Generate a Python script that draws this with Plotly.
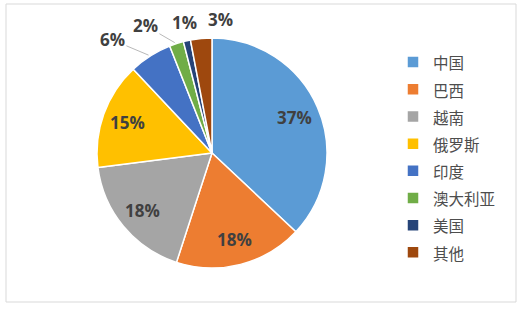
import math
import plotly.graph_objects as go

categories = ["中国", "巴西", "越南", "俄罗斯", "印度", "澳大利亚", "美国", "其他"]
shares = [37, 18, 18, 15, 6, 2, 1, 3]
colors = ["#5B9BD5", "#ED7D31", "#A5A5A5", "#FFC000", "#4472C4", "#70AD47", "#264478", "#9E480E"]
# label placement: True -> drawn inside slice; otherwise outside with offset (dx, dy px) and leader line flag
inside = [True, True, True, True, False, False, False, False]
outside_offsets = {4: (-38, -16, True), 5: (-31, -18, True), 6: (-2, -18, False), 7: (19, -19, False)}
inside_radius_frac = 0.78

W, H = 524, 310
cx, cy, r = 212, 153, 115

legend_labels = [f"<span style='font-size:15.5px'>{c}</span>" for c in categories]
total = sum(shares)
pct_text = [f"{round(100 * v / total)}%" for v in shares]

label_font = dict(family="Open Sans, Noto Sans CJK SC", size=17, color="#404040", weight="bold")

fig = go.Figure(go.Pie(
    labels=legend_labels,
    values=shares,
    textinfo="none",
    sort=False,
    direction="clockwise",
    rotation=0,
    marker=dict(colors=colors, line=dict(color="white", width=1.5)),
    domain=dict(x=[(cx - r) / W, (cx + r) / W], y=[1 - (cy + r) / H, 1 - (cy - r) / H]),
    hoverinfo="skip",
))

# percentage labels placed at each slice's mid-angle
annotations = []
cum = 0
for i, v in enumerate(shares):
    mid = (cum + v / 2) / total * 2 * math.pi
    cum += v
    if inside[i]:
        px = cx + inside_radius_frac * r * math.sin(mid)
        py = cy - inside_radius_frac * r * math.cos(mid)
        annotations.append(dict(
            x=px / W, y=1 - py / H, xref="paper", yref="paper",
            xanchor="center", yanchor="middle",
            text=pct_text[i], showarrow=False, font=label_font,
        ))
        continue
    ex = cx + r * math.sin(mid)
    ey = cy - r * math.cos(mid)
    dx, dy, line = outside_offsets[i]
    if line:
        annotations.append(dict(
            x=ex / W, y=1 - ey / H, xref="paper", yref="paper",
            ax=dx, ay=dy, axref="pixel", ayref="pixel",
            text=pct_text[i], showarrow=True, arrowhead=0, arrowwidth=0.8,
            arrowcolor="#A6A6A6", standoff=2, font=label_font,
        ))
    else:
        annotations.append(dict(
            x=ex / W, y=1 - ey / H, xref="paper", yref="paper",
            xanchor="center", yanchor="middle",
            xshift=dx, yshift=-dy, text=pct_text[i], showarrow=False, font=label_font,
        ))

fig.update_layout(
    width=W, height=H,
    margin=dict(l=0, r=0, t=0, b=0),
    paper_bgcolor="white",
    font=dict(family="Noto Sans CJK SC", color="#595959"),
    legend=dict(
        x=393 / W, xanchor="left",
        y=1 - 157.5 / H, yanchor="middle",
        font=dict(family="Noto Sans CJK SC", size=18.6, color="#4D4D4D"),
        bgcolor="rgba(0,0,0,0)",
    ),
    annotations=annotations,
    shapes=[dict(type="rect", xref="paper", yref="paper",
                 x0=6 / W, x1=516 / W, y0=1 - 302 / H, y1=1 - 4 / H,
                 line=dict(color="#D9D9D9", width=1), fillcolor="rgba(0,0,0,0)")],
)

fig.write_html("out.html")
